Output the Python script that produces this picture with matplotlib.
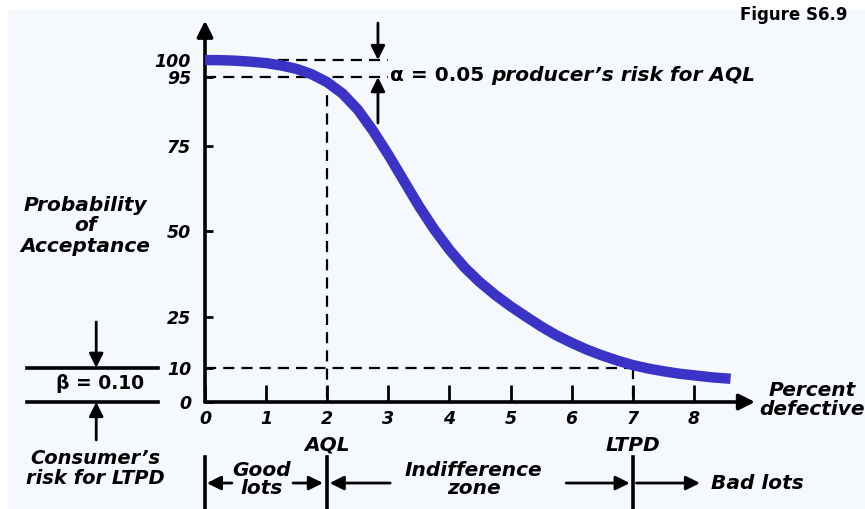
import matplotlib
matplotlib.use("Agg")
import matplotlib.pyplot as plt
from matplotlib.patches import Rectangle

plt.rcParams['font.family'] = ['DejaVu Sans']

# operating characteristic curve
pct_defective = [0, 0.25, 0.5, 0.75, 1, 1.25, 1.5, 1.75, 2, 2.25, 2.5, 2.75, 3,
                 3.25, 3.5, 3.75, 4, 4.25, 4.5, 4.75, 5, 5.25, 5.5, 5.75, 6,
                 6.25, 6.5, 6.75, 7, 7.25, 7.5, 7.75, 8, 8.3, 8.6]
prob_accept = [100, 99.95, 99.8, 99.5, 99.1, 98.4, 97.4, 95.8, 93.5, 90.2, 85.5,
               79.3, 72.3, 64.8, 57.3, 50.5, 44.5, 39.3, 35, 31.3, 28, 25, 22.1,
               19.5, 17.3, 15.3, 13.6, 12.1, 10.8, 9.8, 9.0, 8.3, 7.8, 7.2, 6.8]

x_ticks = [0, 1, 2, 3, 4, 5, 6, 7, 8]
y_ticks = [0, 10, 25, 50, 75, 95, 100]

aql = 2
ltpd = 7
alpha_level = 95
beta_level = 10

BLUE = '#3a33c6'
BG = '#f5f8fd'
bi = dict(fontweight='bold', fontstyle='italic')

fig = plt.figure(figsize=(8.65, 5.09), dpi=100, facecolor='white')
fig.add_artist(Rectangle((8 / 865, 0), 1, 1 - 10 / 509, transform=fig.transFigure,
                         facecolor=BG, edgecolor='none', zorder=-10))

ax = fig.add_axes([205 / 865, 107 / 509, 550 / 865, 379.6 / 509])
ax.set_xlim(0, 9)
ax.set_ylim(0, 111)
ax.patch.set_alpha(0)
for s in ax.spines.values():
    s.set_visible(False)

ax.set_xticks(x_ticks, [str(t) for t in x_ticks], fontsize=12.5, **bi)
ax.set_yticks(y_ticks, [str(t) for t in y_ticks], fontsize=12.5, **bi)
ax.tick_params(axis='x', direction='in', length=12, width=2, pad=6)
ax.tick_params(axis='y', direction='in', length=6, width=2, pad=10)


def arrow(x0, y0, x1, y1, lw=2.0, ms=14):
    ax.annotate('', xy=(x1, y1), xytext=(x0, y0), annotation_clip=False,
                arrowprops=dict(arrowstyle='-|>,head_length=0.6,head_width=0.3',
                                lw=lw, color='black', shrinkA=0, shrinkB=0,
                                mutation_scale=ms))


def line(xs, ys, lw=2.2, **kw):
    ax.plot(xs, ys, color='black', lw=lw, clip_on=False, **kw)


# axes with arrow heads
arrow(0, 0, 9.0, 0, lw=2.6, ms=16)
arrow(0, 0, 0, 111.5, lw=2.6, ms=16)

# dashed guide lines
dash = dict(lw=1.6, dashes=(5, 3.2))
line([0, 3.0], [100, 100], **dash)
line([0, 3.0], [alpha_level, alpha_level], **dash)
line([aql, aql], [alpha_level, 0], **dash)
line([0, ltpd], [beta_level, beta_level], **dash)
line([ltpd, ltpd], [beta_level, 0], **dash)

# the OC curve
ax.plot(pct_defective, prob_accept, color=BLUE, lw=7.5, solid_capstyle='butt',
        solid_joinstyle='round', zorder=5)

# producer's risk
arrow(2.83, 110.8, 2.83, 100)
arrow(2.83, 81.6, 2.83, alpha_level)
t1 = ax.text(3.03, 95.6, "α = 0.05 ", fontsize=14.5, fontweight='bold',
             ha='left', va='center')
ax.annotate("producer’s risk for AQL", xy=(1, 0.5), xycoords=t1, fontsize=14.5,
            ha='left', va='center', **bi)

# consumer's risk
line([-2.91, -0.77], [beta_level, beta_level], lw=2.6)
line([-2.91, -0.77], [0, 0], lw=2.6)
arrow(-1.78, 23.4, -1.78, beta_level)
arrow(-1.78, -11.1, -1.78, 0)
ax.text(-1.72, 5.3, "β = 0.10", fontsize=13.5, fontweight='bold', ha='center', va='center')
ax.text(-1.8, -19.5, "Consumer’s\nrisk for LTPD", fontsize=14, ha='center', va='center',
        linespacing=1.05, **bi)

# axis titles
ax.text(-1.96, 51.5, "Probability\nof\nAcceptance", fontsize=14.5, ha='center',
        va='center', linespacing=1.1, **bi)
ax.text(9.93, 0.5, "Percent\ndefective", fontsize=14.5, ha='center', va='center',
        linespacing=1.0, **bi)
ax.text(aql, -12.6, "AQL", fontsize=14.5, ha='center', va='center', **bi)
ax.text(ltpd, -12.6, "LTPD", fontsize=14.5, ha='center', va='center', **bi)

# zones below the axis
for zx in [0, aql, ltpd]:
    line([zx, zx], [-16.1, -31.3], lw=2.6)
zy = -23.7
arrow(0.44, zy, 0.03, zy)
arrow(1.44, zy, 1.93, zy)
arrow(3.03, zy, 2.04, zy)
arrow(5.91, zy, 6.95, zy)
arrow(7.06, zy, 8.1, zy)
ax.text(0.93, -22.6, "Good\nlots", fontsize=14.5, ha='center', va='center',
        linespacing=0.95, **bi)
ax.text(4.4, -22.6, "Indifference\nzone", fontsize=14.5, ha='center', va='center',
        linespacing=0.95, **bi)
ax.text(8.28, zy, "Bad lots", fontsize=14.5, ha='left', va='center', **bi)

fig.text(848 / 865, 1 - 15 / 509, "Figure S6.9", fontsize=12, fontweight='bold',
         ha='right', va='center')

fig.savefig("out.png", dpi=100, facecolor=fig.get_facecolor())
